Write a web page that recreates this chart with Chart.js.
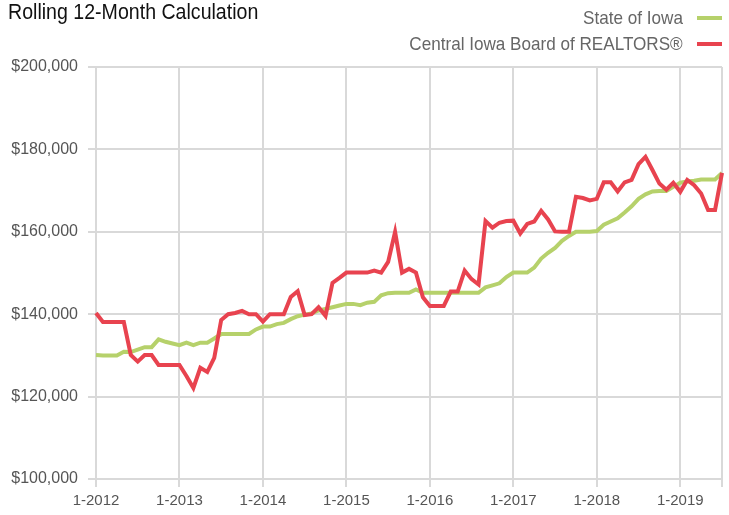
<!DOCTYPE html>
<html>
<head>
<meta charset="utf-8">
<script src="https://cdn.jsdelivr.net/npm/chart.js@4"></script>
<style>
  html, body { margin: 0; padding: 0; background: #fff; }
  #wrap { position: relative; width: 729px; height: 515px; font-family: "Liberation Sans", Arial, sans-serif; }
  #title { position: absolute; left: 8px; top: -1px; font-size: 22px; color: #111; transform: scaleX(0.89); transform-origin: left top; white-space: nowrap; }
  .leg { position: absolute; right: 7px; font-size: 19px; color: #666; display: flex; align-items: center; white-space: nowrap; }
  .leg span { display: inline-block; transform: scaleX(0.9); transform-origin: right center; }
  .leg i { display: inline-block; width: 25px; height: 4px; margin-left: 14px; }
  #chart { position: absolute; left: 0; top: 0; }
</style>
</head>
<body>
<div id="wrap">
  <canvas id="chart" width="729" height="515"></canvas>
  <div id="title">Rolling 12-Month Calculation</div>
  <div class="leg" style="top:7px"><span>State of Iowa</span><i style="background:#b6d16b"></i></div>
  <div class="leg" style="top:33px"><span>Central Iowa Board of REALTORS®</span><i style="background:#e8434f"></i></div>
</div>
<script>
  // Monthly, 1-2012 .. 7-2019
  const yearTicks = ["1-2012", "1-2013", "1-2014", "1-2015", "1-2016", "1-2017", "1-2018", "1-2019"];
  const months = [];
  for (let y = 2012; y <= 2019; y++) {
    for (let m = 1; m <= 12; m++) {
      if (y === 2019 && m > 7) break;
      months.push(m + "-" + y);
    }
  }

  // values in $ thousands
  const stateOfIowa = [
    130.1, 130.0, 130.0, 130.0, 130.9, 130.8, 131.4, 132.0, 132.0, 133.9, 133.3, 132.9,
    132.5, 133.1, 132.5, 133.1, 133.1, 134.1, 135.2, 135.2, 135.2, 135.2, 135.2, 136.3,
    137.0, 137.0, 137.6, 137.9, 138.8, 139.5, 139.9, 140.2, 140.9, 141.3, 141.7, 142.1,
    142.5, 142.5, 142.2, 142.8, 143.0, 144.6, 145.1, 145.2, 145.2, 145.2, 146.0, 145.2,
    145.2, 145.2, 145.2, 145.2, 145.2, 145.2, 145.2, 145.2, 146.5, 147.0, 147.5, 149.0,
    150.1, 150.1, 150.1, 151.3, 153.5, 154.9, 156.1, 157.8, 159.0, 160.0, 160.0, 160.0,
    160.2, 161.7, 162.5, 163.3, 164.7, 166.2, 168.0, 169.1, 169.8, 169.9, 169.9, 170.9,
    171.9, 172.2, 172.4, 172.7, 172.7, 172.7, 174.3
  ];
  const centralIowa = [
    140.3, 138.1, 138.1, 138.1, 138.1, 130.1, 128.5, 130.1, 130.1, 127.7, 127.7, 127.7,
    127.7, 125.0, 122.1, 127.0, 126.0, 129.4, 138.6, 140.0, 140.3, 140.8, 140.0, 140.0,
    138.2, 140.0, 140.0, 140.0, 144.2, 145.6, 139.8, 140.0, 141.7, 139.6, 147.6, 148.8,
    150.1, 150.1, 150.1, 150.1, 150.6, 150.1, 152.7, 160.0, 150.1, 151.0, 150.1, 144.1,
    142.0, 142.0, 142.0, 145.5, 145.5, 150.6, 148.5, 147.2, 162.6, 161.0, 162.2, 162.6,
    162.7, 159.6, 161.9, 162.5, 165.1, 163.0, 160.1, 160.0, 160.0, 168.5, 168.2, 167.6,
    168.0, 172.0, 172.0, 169.8, 172.0, 172.6, 176.4, 178.2, 175.0, 171.7, 170.2, 171.9,
    169.7, 172.6, 171.3, 169.3, 165.3, 165.3, 174.3
  ];

  const gridGray = "#d9d9d9";
  const tickFont = "'Liberation Sans', Arial, sans-serif";
  const isYearTick = (i) => yearTicks.includes(months[i]) || i === months.length - 1;

  new Chart(document.getElementById("chart"), {
    type: "line",
    data: {
      labels: months,
      datasets: [
        {
          label: "Central Iowa Board of REALTORS®",
          data: centralIowa.map(v => v * 1000),
          borderColor: "#e8434f",
          borderWidth: 4,
          pointRadius: 0,
          tension: 0,
        },
        {
          label: "State of Iowa",
          data: stateOfIowa.map(v => v * 1000),
          borderColor: "#b6d16b",
          borderWidth: 4,
          pointRadius: 0,
          tension: 0,
        },
      ],
    },
    options: {
      responsive: false,
      animation: false,
      layout: { padding: { top: 67, right: 7, left: 0, bottom: 0 } },
      plugins: { legend: { display: false }, tooltip: { enabled: false } },
      scales: {
        x: {
          offset: false,
          grid: {
            color: (c) => isYearTick(c.index) ? gridGray : "rgba(0,0,0,0)",
            lineWidth: 2,
            tickLength: 8,
          },
          border: { color: gridGray, width: 2 },
          ticks: {
            autoSkip: false,
            maxRotation: 0,
            padding: 5,
            color: "#555",
            font: { family: tickFont, size: 15 },
            callback: (v, i) => yearTicks.includes(months[i]) ? months[i] : "",
          },
          afterFit: (s) => { s.height = 36; },
        },
        y: {
          min: 100000,
          max: 200000,
          ticks: {
            stepSize: 20000,
            padding: 10,
            color: "#555",
            font: { family: tickFont, size: 16 },
            callback: (v) => "$" + v.toLocaleString("en-US"),
          },
          grid: { color: gridGray, lineWidth: 2, tickLength: 8 },
          border: { display: false },
          afterFit: (s) => { s.width = 96; },
        },
      },
    },
  });
</script>
</body>
</html>
